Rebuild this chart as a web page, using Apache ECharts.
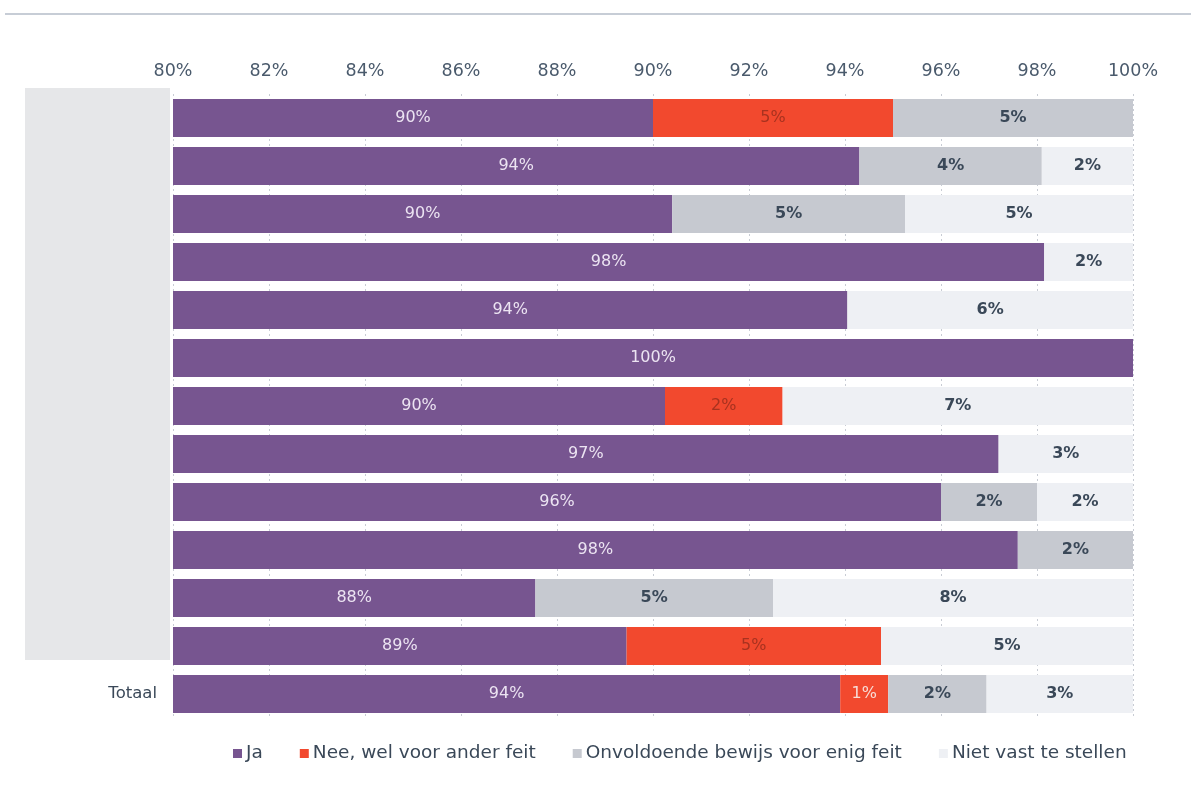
<!DOCTYPE html>
<html><head><meta charset="utf-8">
<script src="https://cdn.jsdelivr.net/npm/echarts@6/dist/echarts.min.js"></script>
<style>html,body{margin:0;padding:0;background:#fff}#c{width:1191px;height:790px}</style>
</head><body><div id="c"></div>
<script>
const categories = ['', '', '', '', '', '', '', '', '', '', '', '', 'Totaal'];
const seriesNames = ['Ja', 'Nee, wel voor ander feit', 'Onvoldoende bewijs voor enig feit', 'Niet vast te stellen'];
const ja   = [90.0, 94.3, 90.4, 98.15, 94.05, 100, 90.25, 97.2, 96.0, 97.6, 87.55, 89.45, 93.9];
const nee  = [5.0, 0, 0, 0, 0, 0, 2.45, 0, 0, 0, 0, 5.3, 1.0];
const onv  = [5.0, 3.8, 4.85, 0, 0, 0, 0, 0, 2.0, 2.4, 4.95, 0, 2.05];
const niet = [0, 1.9, 4.75, 1.85, 5.95, 0, 7.3, 2.8, 2.0, 0, 7.5, 5.25, 3.05];
const tickLabels = ['80%', '82%', '84%', '86%', '88%', '90%', '92%', '94%', '96%', '98%', '100%'];

const colors = ['#775590', '#f2492e', '#c6c9d0', '#eef0f4'];
const labelColors = ['#ece4f2', '#a8321f', '#3a4858', '#3a4858'];
const labelWeights = ['normal', 'normal', 'bold', 'bold'];
const font = 'DejaVu Sans';
const datasets = [ja, nee, onv, niet];

const series = datasets.map((arr, i) => ({
  name: seriesNames[i],
  type: 'bar',
  stack: 'total',
  barWidth: 38,
  clip: true,
  itemStyle: { color: colors[i] },
  label: {
    show: true,
    position: 'inside',
    fontFamily: font,
    fontSize: 16,
    fontWeight: labelWeights[i],
    color: labelColors[i],
    formatter: p => (p.value > 0 ? Math.round(p.value) + '%' : '')
  },
  data: arr.map((v, j) => {
    if (i === 1 && j === arr.length - 1) {
      return { value: v, label: { color: '#f7dcd6' } };
    }
    return v;
  })
}));

const chart = echarts.init(document.getElementById('c'));
chart.setOption({
  backgroundColor: '#ffffff',
  animation: false,
  grid: { left: 173, right: 58, top: 94, bottom: 72, containLabel: false },
  xAxis: {
    type: 'value',
    position: 'top',
    min: 80, max: 100, interval: 2,
    axisLine: { show: false },
    axisTick: { show: false },
    splitLine: { show: true, lineStyle: { color: '#c8ccd4', type: [2, 3], width: 1 } },
    axisLabel: {
      fontFamily: font, fontSize: 17.5, color: '#4a5a6c', margin: 14,
      formatter: v => tickLabels[Math.round((v - 80) / 2)]
    }
  },
  yAxis: {
    type: 'category',
    inverse: true,
    data: categories,
    axisLine: { show: false },
    axisTick: { show: false },
    axisLabel: { fontFamily: font, fontSize: 16.5, color: '#3a4858', margin: 16 }
  },
  legend: {
    bottom: 22,
    left: 228,
    itemWidth: 9, itemHeight: 9, itemGap: 37,
    icon: 'rect',
    textStyle: { fontFamily: font, fontSize: 18.5, color: '#3a4858', padding: [0, 0, 0, -1] },
    data: seriesNames
  },
  graphic: [
    { type: 'rect', shape: { x: 25, y: 88, width: 145, height: 572 }, style: { fill: '#e6e7e9' }, z: 10 },
    { type: 'line', shape: { x1: 5, y1: 14, x2: 1191, y2: 14 }, style: { stroke: '#b4bcc8', lineWidth: 1.5 } }
  ],
  series: series
});
</script></body></html>
